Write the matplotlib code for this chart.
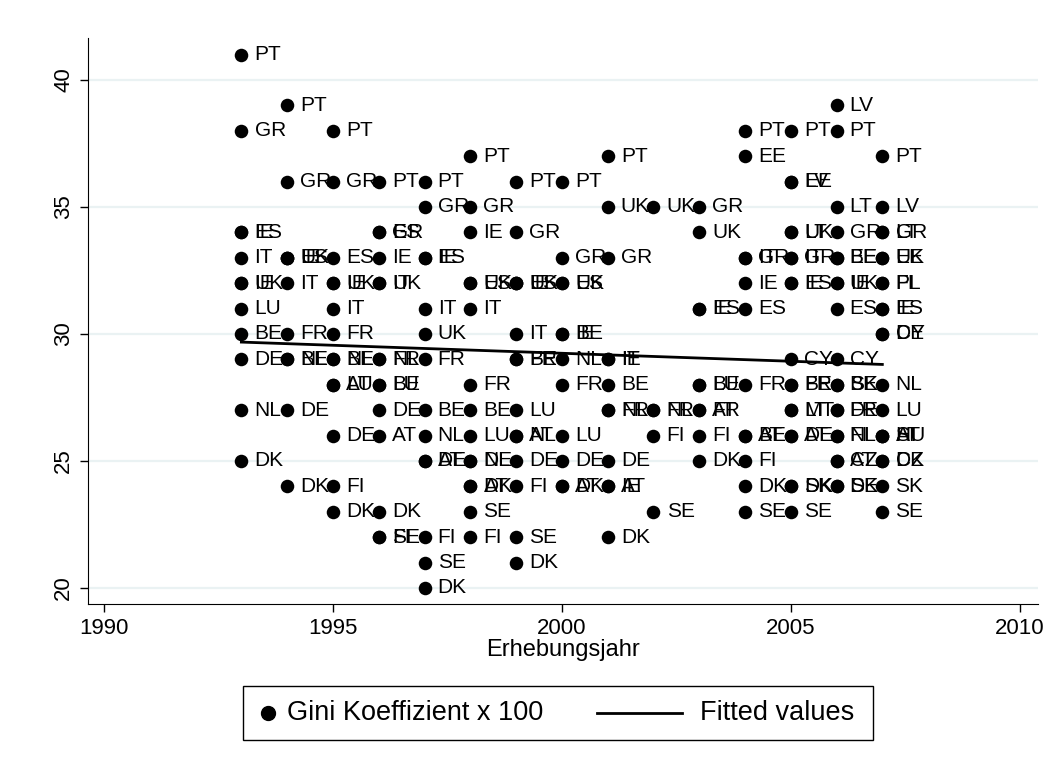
import numpy as np
import matplotlib.pyplot as plt
from matplotlib.lines import Line2D
from matplotlib.patches import Rectangle

plt.rcParams['font.family'] = ['Liberation Sans', 'DejaVu Sans']

# Gini Koeffizient x 100 je Land und Erhebungsjahr
y1993 = [(41, 'PT'), (38, 'GR'), (34, 'ES'), (34, 'IE'), (33, 'IT'), (32, 'UK'), (32, 'IE'),
         (31, 'LU'), (30, 'BE'), (29, 'DE'), (27, 'NL'), (25, 'DK')]
y1994 = [(39, 'PT'), (36, 'GR'), (33, 'IE'), (33, 'UK'), (33, 'ES'), (32, 'IT'), (30, 'FR'),
         (29, 'NL'), (29, 'BE'), (27, 'DE'), (24, 'DK')]
y1995 = [(38, 'PT'), (36, 'GR'), (33, 'ES'), (32, 'UK'), (32, 'IE'), (31, 'IT'), (30, 'FR'),
         (29, 'NL'), (29, 'BE'), (28, 'AT'), (28, 'LU'), (26, 'DE'), (24, 'FI'), (23, 'DK')]
y1996 = [(36, 'PT'), (34, 'ES'), (34, 'GR'), (33, 'IE'), (32, 'UK'), (32, 'IT'), (29, 'NL'),
         (29, 'FR'), (28, 'BE'), (28, 'LU'), (27, 'DE'), (26, 'AT'), (23, 'DK'), (22, 'SE'),
         (22, 'FI')]
y1997 = [(36, 'PT'), (35, 'GR'), (33, 'IE'), (33, 'ES'), (31, 'IT'), (30, 'UK'), (29, 'FR'),
         (27, 'BE'), (26, 'NL'), (25, 'AT'), (25, 'DE'), (22, 'FI'), (21, 'SE'), (20, 'DK')]
y1998 = [(37, 'PT'), (35, 'GR'), (34, 'IE'), (32, 'ES'), (32, 'UK'), (31, 'IT'), (28, 'FR'),
         (27, 'BE'), (26, 'LU'), (25, 'NL'), (25, 'DE'), (24, 'AT'), (24, 'DK'), (23, 'SE'),
         (22, 'FI')]
y1999 = [(36, 'PT'), (34, 'GR'), (32, 'IE'), (32, 'ES'), (32, 'UK'), (30, 'IT'), (29, 'BE'),
         (29, 'FR'), (27, 'LU'), (26, 'AT'), (26, 'NL'), (25, 'DE'), (24, 'FI'), (22, 'SE'),
         (21, 'DK')]
y2000 = [(36, 'PT'), (33, 'GR'), (32, 'ES'), (32, 'UK'), (30, 'IE'), (30, 'BE'), (29, 'NL'),
         (28, 'FR'), (26, 'LU'), (25, 'DE'), (24, 'DK'), (24, 'AT')]
y2001 = [(37, 'PT'), (35, 'UK'), (33, 'GR'), (29, 'IE'), (29, 'IT'), (28, 'BE'), (27, 'FR'),
         (27, 'NL'), (25, 'DE'), (24, 'AT'), (24, 'IE'), (22, 'DK')]
y2002 = [(35, 'UK'), (27, 'NL'), (27, 'FR'), (26, 'FI'), (23, 'SE')]
y2003 = [(35, 'GR'), (34, 'UK'), (31, 'ES'), (31, 'IE'), (28, 'BE'), (28, 'LU'), (27, 'AT'),
         (27, 'FR'), (26, 'FI'), (25, 'DK')]
y2004 = [(38, 'PT'), (37, 'EE'), (33, 'GR'), (33, 'IT'), (32, 'IE'), (31, 'ES'), (28, 'FR'),
         (26, 'AT'), (26, 'BE'), (25, 'FI'), (24, 'DK'), (23, 'SE')]
y2005 = [(38, 'PT'), (36, 'EE'), (36, 'LV'), (34, 'UK'), (34, 'LT'), (33, 'GR'), (33, 'IT'),
         (32, 'IE'), (32, 'ES'), (29, 'CY'), (28, 'BE'), (28, 'FR'), (27, 'MT'), (27, 'LT'),
         (26, 'AT'), (26, 'DE'), (24, 'DK'), (24, 'SK'), (23, 'SE')]
y2006 = [(39, 'LV'), (38, 'PT'), (35, 'LT'), (34, 'GR'), (33, 'BE'), (33, 'EE'), (32, 'UK'),
         (32, 'IE'), (31, 'ES'), (29, 'CY'), (28, 'SK'), (28, 'BE'), (27, 'DE'), (27, 'FR'),
         (26, 'FI'), (26, 'NL'), (25, 'CZ'), (25, 'AT'), (24, 'SE'), (24, 'DK')]
y2007 = [(37, 'PT'), (35, 'LV'), (34, 'GR'), (34, 'LT'), (33, 'UK'), (33, 'EE'), (32, 'PL'),
         (32, 'FI'), (31, 'ES'), (31, 'IE'), (30, 'CY'), (30, 'DE'), (28, 'NL'), (27, 'LU'),
         (26, 'HU'), (26, 'SI'), (26, 'AT'), (25, 'CZ'), (25, 'DK'), (24, 'SK'), (23, 'SE')]

fit_years = [1993, 2007]
fit_values = [29.68, 28.8]

by_year = [(1993, y1993), (1994, y1994), (1995, y1995), (1996, y1996), (1997, y1997),
           (1998, y1998), (1999, y1999), (2000, y2000), (2001, y2001), (2002, y2002),
           (2003, y2003), (2004, y2004), (2005, y2005), (2006, y2006), (2007, y2007)]
years, gini, land = [], [], []
for yr, rows in by_year:
    for v, c in rows:
        years.append(yr)
        gini.append(v)
        land.append(c)

W, H = 1055, 771
fig = plt.figure(figsize=(W / 100, H / 100), dpi=100)
ax = fig.add_axes([88 / W, 1 - 604 / H, (1038 - 88) / W, (604 - 38) / H])

ax.scatter(years, gini, s=95, color='black', linewidths=0, zorder=3)
for x, y, c in zip(years, gini, land):
    ax.annotate(c, (x, y), xytext=(9.5, 0), textcoords='offset points',
                ha='left', va='center', fontsize=15, zorder=4)
ax.plot(fit_years, fit_values, color='black', lw=2, zorder=5)

ax.set_xlim(1989.65, 2010.4)
ax.set_ylim(19.37, 41.65)
ax.set_xticks(np.arange(1990, 2011, 5))
ax.set_yticks(np.arange(20, 41, 5))
ax.tick_params(direction='out', length=6, width=1, labelsize=16, pad=4)
for lab in ax.get_yticklabels():
    lab.set_rotation(90)
    lab.set_va('center')
ax.grid(axis='y', color='#eaf2f3', lw=1.6)
ax.set_axisbelow(True)
for s in ['top', 'right']:
    ax.spines[s].set_visible(False)
ax.set_xlabel('Erhebungsjahr', fontsize=17, labelpad=0)

# Legende
def fx(px):
    return px / W

def fy(py):
    return 1 - py / H

fig.add_artist(Rectangle((fx(243), fy(740)), (873 - 243) / W, (740 - 686) / H,
                         transform=fig.transFigure, fill=False, ec='black', lw=1))
fig.add_artist(Line2D([fx(268)], [fy(713)], marker='o', ms=10, color='black',
                      transform=fig.transFigure))
fig.text(fx(287), fy(713), 'Gini Koeffizient x 100', fontsize=19.5, va='center', ha='left')
fig.add_artist(Line2D([fx(597), fx(682)], [fy(713), fy(713)], color='black', lw=2,
                      transform=fig.transFigure))
fig.text(fx(700), fy(713), 'Fitted values', fontsize=19.5, va='center', ha='left')

fig.savefig('out.png', dpi=100)
